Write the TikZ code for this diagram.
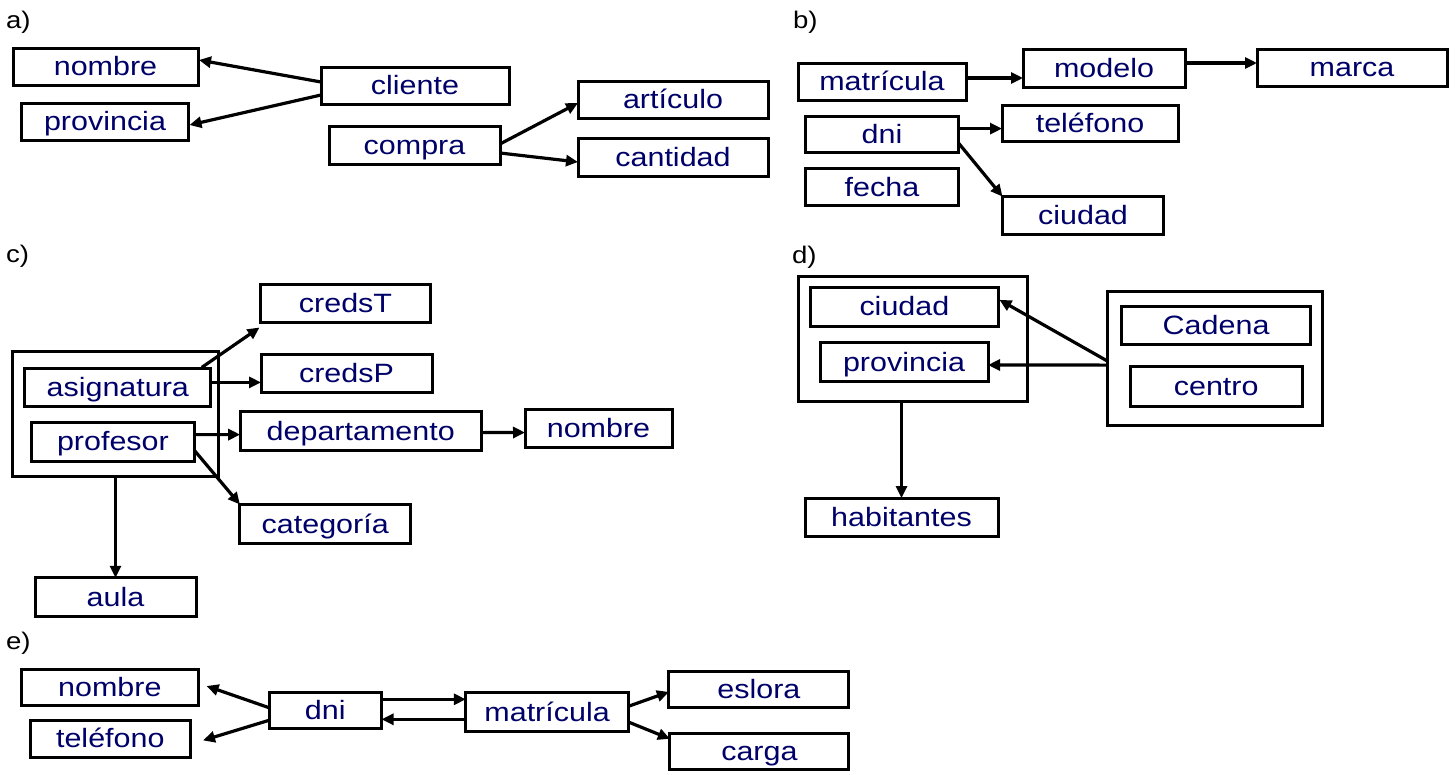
\documentclass[tikz,border=0pt]{standalone}
\usepackage{fontspec}
\setmainfont{Liberation Sans}[FakeStretch=1.15]
\usetikzlibrary{arrows.meta,calc}
\definecolor{labelblue}{RGB}{0,0,105}
\begin{document}
\begin{tikzpicture}[x=1pt,y=-1pt,
  every node/.style={inner sep=0pt, outer sep=0pt},
  box/.style={draw, line width=3pt, fill=white, text=labelblue,
    font=\fontsize{26.5}{30}\selectfont, text height=22pt, text depth=4pt},
  frame/.style={draw, line width=3pt},
  part/.style={font=\fontsize{24}{28}\selectfont, anchor=base west},
  link/.style={line width=3.2pt, -{Triangle[length=12pt,width=11pt]}}]
\path[use as bounding box] (0,0) rectangle (1456,774);

% ---------- a) ----------
\node[part] (la) at (6,28) {a)};
\node[box, minimum width=185, minimum height=37] (a_nombre) at (105.5,66.5) {nombre};
\node[box, minimum width=167, minimum height=37] (a_prov) at (105,121.5) {provincia};
\node[box, minimum width=188, minimum height=37] (a_cliente) at (415,85.5) {cliente};
\node[box, minimum width=171, minimum height=38] (a_compra) at (414.5,145) {compra};
\node[box, minimum width=190, minimum height=37] (a_art) at (673,99.5) {artículo};
\node[box, minimum width=190, minimum height=38] (a_cant) at (673,157) {cantidad};
\draw[link] ($(a_cliente.west)+(0,-3.5)$) -- ($(a_nombre.east)+(1,-6.5)$);
\draw[link] ($(a_cliente.west)+(0,9.5)$) -- ($(a_prov.east)+(1,3.5)$);
\draw[link] ($(a_compra.east)+(0,-1)$) -- ($(a_art.west)+(0,3.5)$);
\draw[link] ($(a_compra.east)+(0,8)$) -- ($(a_cant.west)+(0,5)$);

% ---------- b) ----------
\node[part] (lb) at (793,28) {b)};
\node[box, minimum width=168, minimum height=37] (b_matr) at (882,81.5) {matrícula};
\node[box, minimum width=162, minimum height=38] (b_modelo) at (1104,68) {modelo};
\node[box, minimum width=190, minimum height=37] (b_marca) at (1352,67.5) {marca};
\node[box, minimum width=153, minimum height=36] (b_dni) at (882,134.6) {dni};
\node[box, minimum width=176, minimum height=36] (b_tel) at (1090,123.6) {teléfono};
\node[box, minimum width=153, minimum height=37] (b_fecha) at (882,187) {fecha};
\node[box, minimum width=161, minimum height=38] (b_ciudad) at (1083,215.6) {ciudad};
\draw[link] ($(b_matr.east)+(0,-3.5)$) -- ($(b_modelo.west)+(0,10)$);
\draw[link] ($(b_modelo.east)+(0,-5)$) -- ($(b_marca.west)+(0,-4.5)$);
\draw[link] ($(b_dni.east)+(0,-6)$) -- ($(b_tel.west)+(0,5)$);
\draw[link] ($(b_dni.east)+(0,8.4)$) -- (b_ciudad.north west);

% ---------- c) ----------
\node[part] (lc) at (6,262) {c)};
\node[frame, minimum width=206, minimum height=125] (c_outer) at (115.5,414.3) {};
\node[box, minimum width=186, minimum height=38] (c_asig) at (117.8,387.9) {asignatura};
\node[box, minimum width=163, minimum height=38.5] (c_prof) at (112.9,441.9) {profesor};
\node[box, minimum width=170, minimum height=38] (c_credsT) at (345.5,303.5) {credsT};
\node[box, minimum width=171, minimum height=38] (c_credsP) at (346.5,373) {credsP};
\node[box, minimum width=241, minimum height=38.5] (c_dept) at (360.7,431) {departamento};
\node[box, minimum width=147, minimum height=38.5] (c_nombre) at (598.5,428.5) {nombre};
\node[box, minimum width=170.5, minimum height=39] (c_cat) at (325.2,524) {categoría};
\node[box, minimum width=161, minimum height=38.5] (c_aula) at (115.5,597) {aula};
\draw[link] ($(c_asig.north east)+(-9,-1.5)$) -- ($(c_credsT.south west)+(-1,5)$);
\draw[link] ($(c_asig.east)+(0,-5.5)$) -- ($(c_credsP.west)+(0,9.4)$);
\draw[link] ($(c_prof.east)+(0,-7.3)$) -- ($(c_dept.west)+(0,3.6)$);
\draw[link] ($(c_dept.east)+(0,1.6)$) -- ($(c_nombre.west)+(0,4)$);
\draw[link] ($(c_prof.east)+(0,8.5)$) -- (c_cat.north west);
\draw[link] (c_aula.north |- c_outer.south) -- (c_aula.north);

% ---------- d) ----------
\node[part] (ld) at (792,263) {d)};
\node[frame, minimum width=229, minimum height=125] (d_outer) at (913.2,338.6) {};
\node[box, minimum width=188, minimum height=39] (d_ciudad) at (904.4,306.5) {ciudad};
\node[box, minimum width=168, minimum height=39] (d_prov) at (904,362) {provincia};
\node[frame, minimum width=215, minimum height=134] (d_outerR) at (1215,358.1) {};
\node[box, minimum width=189, minimum height=38] (d_cadena) at (1216.1,325.6) {Cadena};
\node[box, minimum width=172, minimum height=40] (d_centro) at (1216.2,386) {centro};
\node[box, minimum width=193, minimum height=38.5] (d_habit) at (901.5,517.3) {habitantes};
\draw[link] ($(d_outerR.west)+(0,3)$) -- ($(d_ciudad.east)+(1,-6.7)$);
\draw[link] ($(d_outerR.west)+(0,7)$) -- ($(d_prov.east)+(0,3)$);
\draw[link] (d_habit.north |- d_outer.south) -- (d_habit.north);

% ---------- e) ----------
\node[part] (le) at (6,649) {e)};
\node[box, minimum width=177.5, minimum height=36] (e_nombre) at (109.8,687) {nombre};
\node[box, minimum width=160, minimum height=37] (e_tel) at (110.3,738.7) {teléfono};
\node[box, minimum width=112.5, minimum height=36] (e_dni) at (325.3,710.7) {dni};
\node[box, minimum width=162.6, minimum height=38.8] (e_matr) at (547.1,712) {matrícula};
\node[box, minimum width=180, minimum height=36] (e_eslora) at (758.9,689.9) {eslora};
\node[box, minimum width=179, minimum height=36] (e_carga) at (759.4,751.8) {carga};
\draw[link] ($(e_dni.west)+(0,-3)$) -- ($(e_nombre.east)+(8,-1)$);
\draw[link] ($(e_dni.west)+(0,9.6)$) -- ($(e_tel.east)+(12.7,1.7)$);
\draw[link] ($(e_dni.east)+(0,-11.4)$) -- ($(e_matr.west)+(0,-12.7)$);
\draw[link] ($(e_matr.west)+(0,7.3)$) -- ($(e_dni.east)+(0,8.6)$);
\draw[link] ($(e_matr.east)+(0,-5.7)$) -- ($(e_eslora.west)+(0,2)$);
\draw[link] ($(e_matr.east)+(0,10)$) -- ($(e_carga.west)+(0,-13)$);
\end{tikzpicture}
\end{document}
